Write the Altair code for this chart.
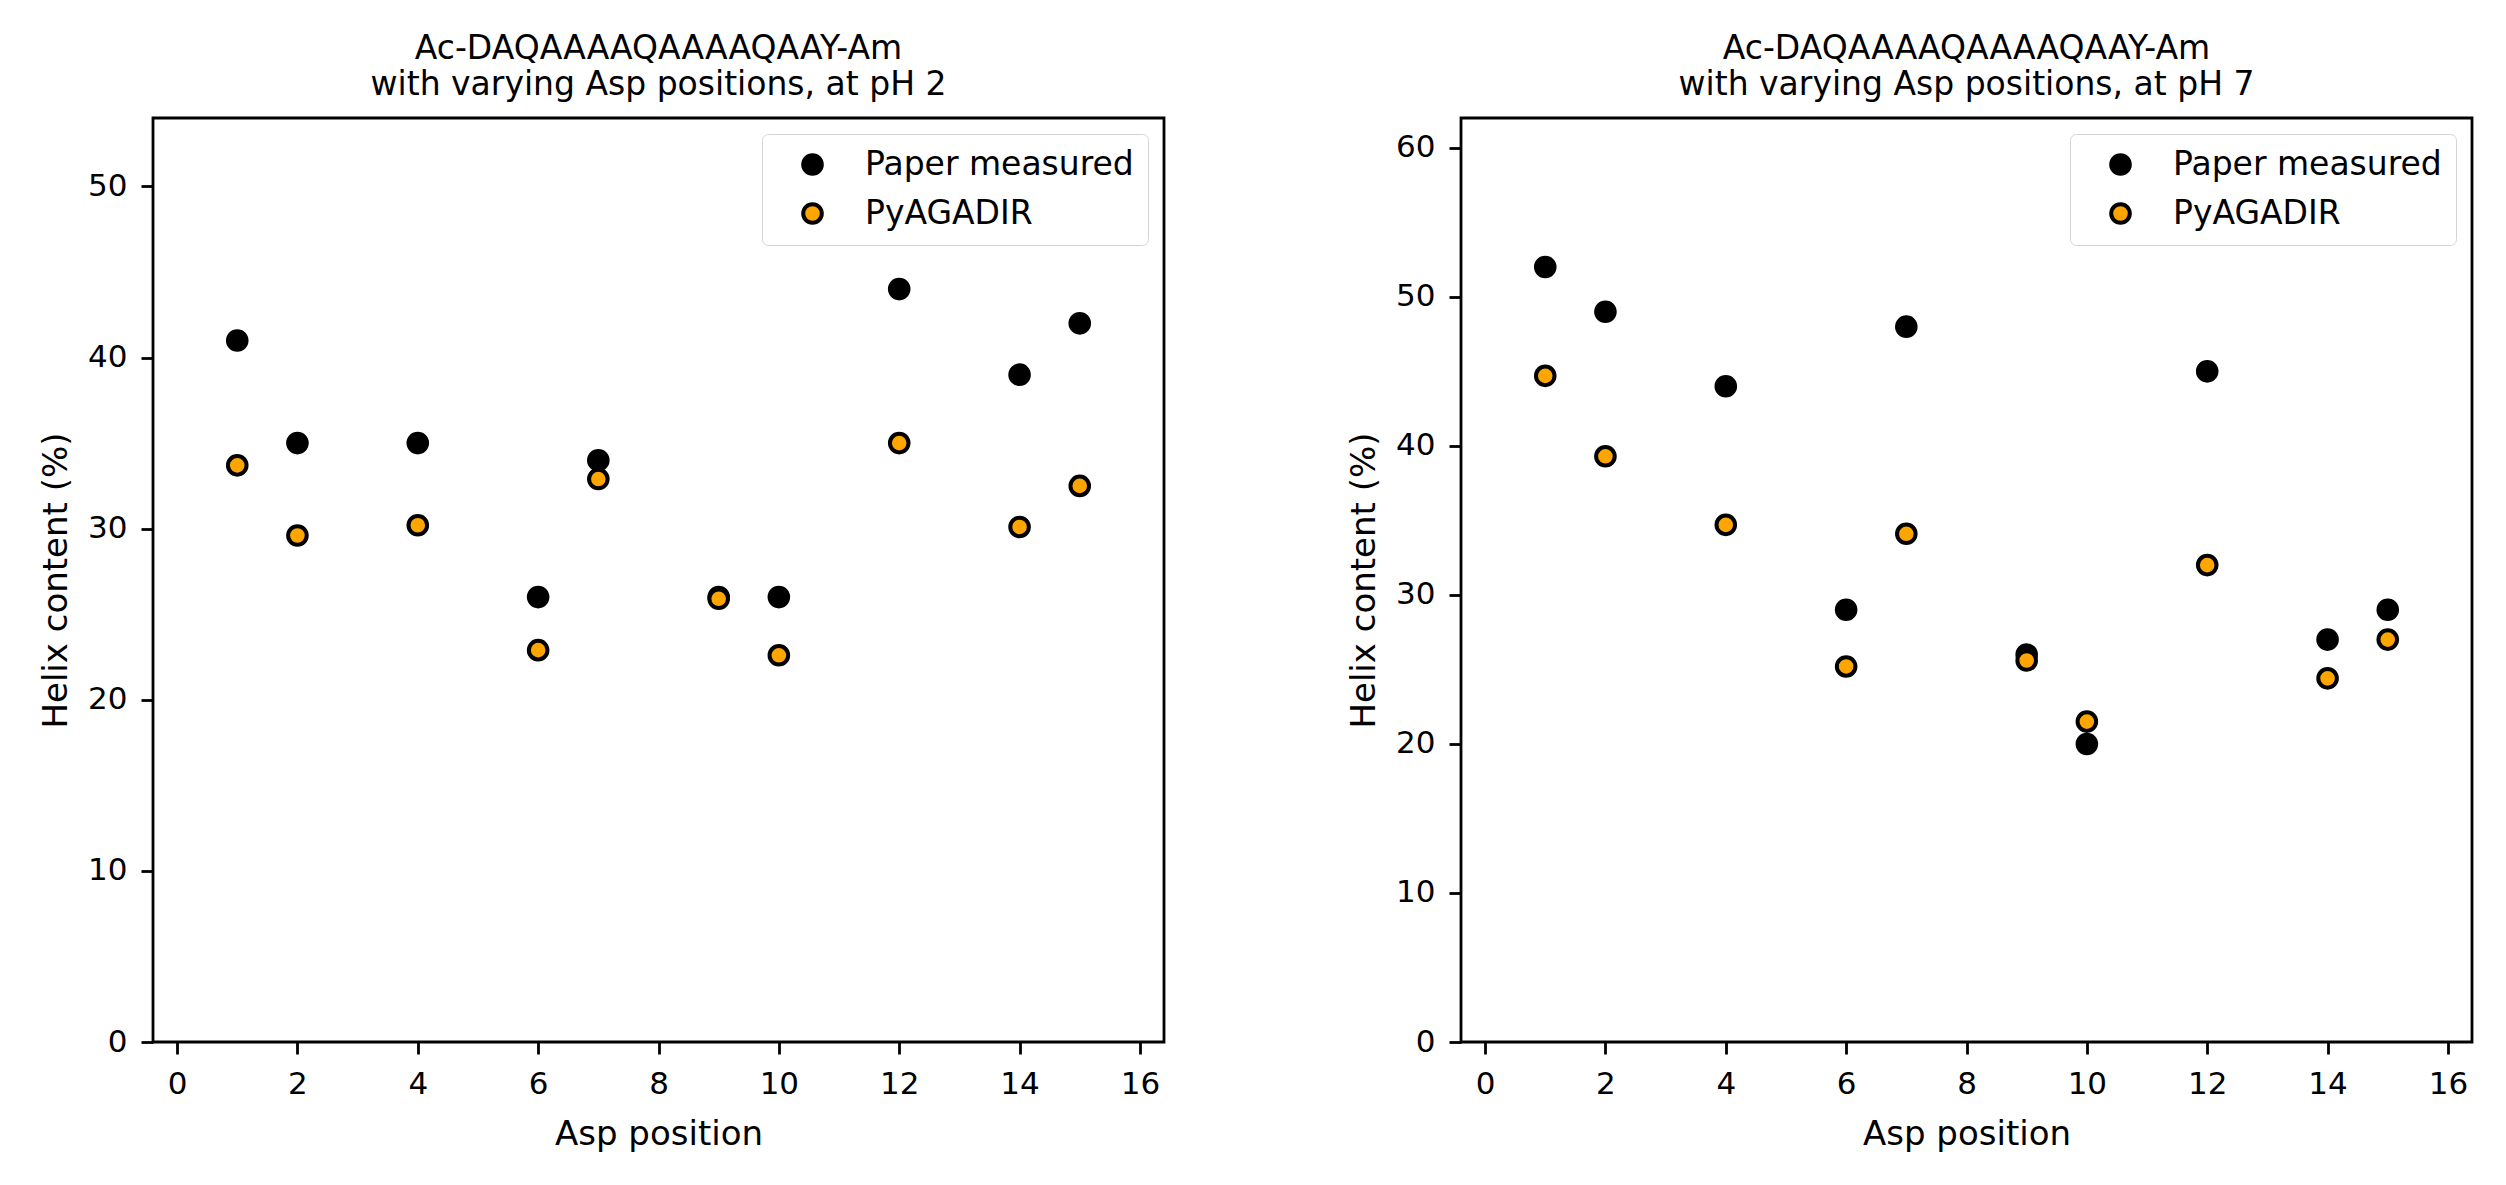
import altair as alt
import pandas as pd

# ---- data ----
positions = [1, 2, 4, 6, 7, 9, 10, 12, 14, 15]
ph2_measured = [41, 35, 35, 26, 34, 26, 26, 44, 39, 42]
ph2_pyagadir = [33.7, 29.6, 30.2, 22.9, 32.9, 25.9, 22.6, 35.0, 30.1, 32.5]
ph7_measured = [52, 49, 44, 29, 48, 26, 20, 45, 27, 29]
ph7_pyagadir = [44.7, 39.3, 34.7, 25.2, 34.1, 25.6, 21.5, 32.0, 24.4, 27.0]

series_names = ["Paper measured", "PyAGADIR"]
series_colors = ["black", "orange"]
x_ticks = [0, 2, 4, 6, 8, 10, 12, 14, 16]
y_ticks_ph2 = [0, 10, 20, 30, 40, 50]
y_ticks_ph7 = [0, 10, 20, 30, 40, 50, 60]
title_line1 = "Ac-DAQAAAAQAAAAQAAY-Am"
title_ph2 = "with varying Asp positions, at pH 2"
title_ph7 = "with varying Asp positions, at pH 7"

FONT = "DejaVu Sans"


def panel(measured, predicted, title2, ymax, yticks):
    df = pd.DataFrame({
        "pos": positions + positions,
        "val": measured + predicted,
        "series": [series_names[0]] * len(positions) + [series_names[1]] * len(positions),
        "ord": list(range(len(positions) * 2)),
    })
    return alt.Chart(df).mark_point(
        filled=True, shape="circle", size=346, stroke="black", strokeWidth=4, opacity=1
    ).encode(
        x=alt.X("pos:Q",
                scale=alt.Scale(domain=[-0.4, 16.4], nice=False, zero=False),
                axis=alt.Axis(values=x_ticks, title="Asp position", format="d")),
        y=alt.Y("val:Q",
                scale=alt.Scale(domain=[0, ymax], nice=False, zero=False),
                axis=alt.Axis(values=yticks, title="Helix content (%)", format="d")),
        fill=alt.Fill("series:N",
                      scale=alt.Scale(domain=series_names, range=series_colors),
                      legend=alt.Legend(
                          title=None, orient="top-right", offset=16,
                          padding=14, rowPadding=14,
                          strokeColor="#d4d4d4", cornerRadius=6,
                          fillColor="white", labelLimit=600,
                          labelFont=FONT, labelFontSize=33, labelColor="black",
                          symbolType="circle", symbolSize=346,
                          symbolStrokeColor="black", symbolStrokeWidth=4,
                          symbolOffset=20, labelOffset=36,
                      )),
        order=alt.Order("ord:Q"),
    ).properties(
        width=1011, height=924,
        title=alt.TitleParams(text=[title_line1, title2], fontSize=33, font=FONT,
                              fontWeight="normal", color="black", anchor="middle",
                              offset=16, lineHeight=36),
    )


left = panel(ph2_measured, ph2_pyagadir, title_ph2, 54, y_ticks_ph2)
right = panel(ph7_measured, ph7_pyagadir, title_ph7, 62, y_ticks_ph7)

chart = alt.hconcat(left, right, spacing=180).resolve_scale(
    y="independent", fill="shared"
).resolve_legend(fill="independent").properties(
    padding={"left": 30, "top": 23, "right": 10, "bottom": 10},
    background="white",
).configure_view(
    stroke="black", strokeWidth=2.8, fill="white"
).configure_axis(
    grid=False, domain=False,
    ticks=True, tickColor="black", tickWidth=2.8, tickSize=12,
    labelFont=FONT, labelFontSize=31, labelColor="black",
    titleFont=FONT, titleFontSize=34, titleFontWeight="normal", titleColor="black",
).configure_axisX(
    labelPadding=15, titlePadding=18
).configure_axisY(
    labelPadding=14, titlePadding=14
)

chart.save("out.html", embed_options={"renderer": "svg", "actions": False})
